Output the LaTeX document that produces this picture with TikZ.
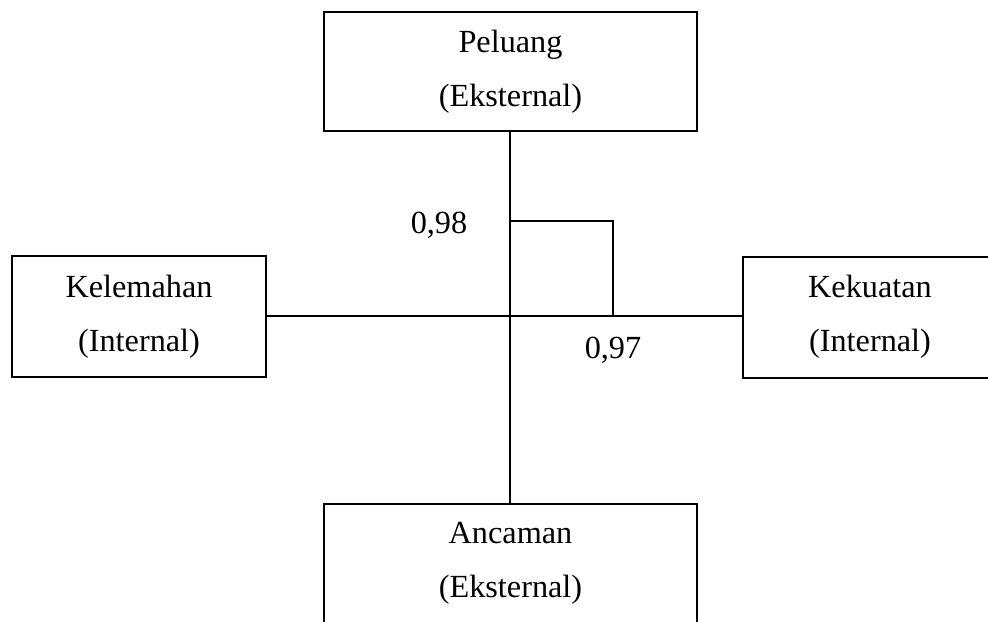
\documentclass[tikz,border=0pt]{standalone}
\usepackage{fontspec}
\setmainfont{Liberation Serif}
\begin{document}
\begin{tikzpicture}[x=0.75pt,y=-0.75pt,
  box/.style={draw, line width=1.5pt, align=center, inner sep=0pt,
    font=\fontsize{24.2}{40.5}\selectfont},
  conn/.style={line width=1pt},
  lbl/.style={anchor=base, inner sep=0pt, font=\fontsize{24.2}{30}\selectfont}]
\useasboundingbox (0,0) rectangle (988,621);
\clip (0,0) rectangle (988,621);
\node[box, minimum width=279.75pt, minimum height=89.25pt] (P) at (510.5,71.5) {Peluang\\(Eksternal)};
\node[box, minimum width=190.5pt, minimum height=90.75pt] (W) at (139,316.5) {Kelemahan\\(Internal)};
\node[box, minimum width=190.5pt, minimum height=90.75pt] (S) at (870,317) {Kekuatan\\(Internal)};
\node[box, minimum width=279.75pt, minimum height=89.25pt] (T) at (510.5,563.5) {Ancaman\\(Eksternal)};
\coordinate (b1) at (510,221);
\coordinate (b3) at (613,316);
\draw[conn] (P.south -| b1) -- (T.north -| b1);
\draw[conn] (W.east |- b3) -- (S.west |- b3);
\draw[conn] (b1) -| (b3);
\node[lbl] (l98) at (439,233) {0,98};
\node[lbl] (l97) at (613,358) {0,97};
\end{tikzpicture}
\end{document}
